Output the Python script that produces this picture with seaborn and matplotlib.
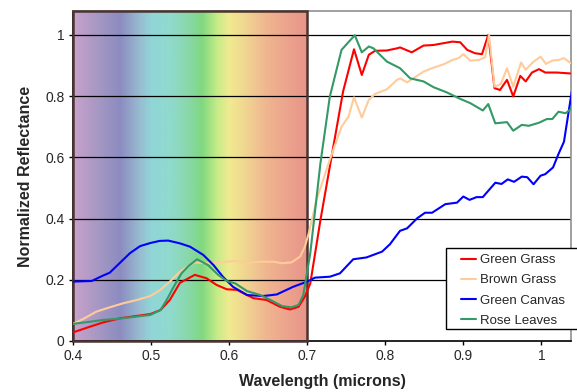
import numpy as np
import pandas as pd
import matplotlib
matplotlib.use('Agg')
import matplotlib.pyplot as plt
from matplotlib.colors import LinearSegmentedColormap
import seaborn as sns

# ---- data
gg_wl = [0.400, 0.422, 0.439, 0.460, 0.482, 0.499, 0.512, 0.524, 0.537, 0.556, 0.571,
         0.584, 0.597, 0.610, 0.631, 0.648, 0.665, 0.678, 0.689, 0.697, 0.704, 0.717,
         0.732, 0.746, 0.760, 0.770, 0.779, 0.787, 0.802, 0.815, 0.819, 0.834, 0.849,
         0.862, 0.875, 0.886, 0.896, 0.905, 0.915, 0.924, 0.932, 0.940, 0.947, 0.956,
         0.964, 0.973, 0.980, 0.988, 0.997, 1.005, 1.020, 1.037]
gg_val = [0.028, 0.047, 0.061, 0.074, 0.082, 0.088, 0.101, 0.134, 0.190, 0.216, 0.205,
          0.183, 0.169, 0.167, 0.140, 0.134, 0.112, 0.103, 0.112, 0.145, 0.188, 0.395,
          0.613, 0.815, 0.953, 0.869, 0.935, 0.948, 0.949, 0.956, 0.959, 0.943, 0.965,
          0.967, 0.973, 0.978, 0.976, 0.951, 0.940, 0.937, 1.000, 0.826, 0.820, 0.853,
          0.799, 0.866, 0.848, 0.877, 0.888, 0.877, 0.877, 0.874]

bg_wl = [0.400, 0.413, 0.430, 0.447, 0.464, 0.482, 0.499, 0.512, 0.524, 0.537, 0.548,
         0.556, 0.573, 0.591, 0.607, 0.623, 0.642, 0.657, 0.668, 0.680, 0.691, 0.697,
         0.702, 0.712, 0.729, 0.744, 0.753, 0.760, 0.770, 0.779, 0.787, 0.802, 0.815,
         0.819, 0.828, 0.836, 0.849, 0.862, 0.875, 0.886, 0.894, 0.900, 0.909, 0.920,
         0.928, 0.933, 0.940, 0.948, 0.956, 0.964, 0.974, 0.980, 0.989, 0.999, 1.006,
         1.014, 1.022, 1.029, 1.038]
bg_val = [0.056, 0.072, 0.096, 0.110, 0.123, 0.134, 0.147, 0.167, 0.194, 0.226, 0.245,
          0.257, 0.254, 0.257, 0.262, 0.256, 0.259, 0.259, 0.254, 0.257, 0.276, 0.308,
          0.352, 0.461, 0.592, 0.700, 0.733, 0.796, 0.730, 0.788, 0.807, 0.822, 0.853,
          0.858, 0.845, 0.858, 0.880, 0.893, 0.904, 0.918, 0.924, 0.937, 0.916, 0.918,
          0.927, 1.000, 0.831, 0.839, 0.891, 0.831, 0.910, 0.886, 0.910, 0.929, 0.905,
          0.916, 0.918, 0.924, 0.907]

gc_wl = [0.400, 0.424, 0.437, 0.447, 0.460, 0.473, 0.486, 0.499, 0.511, 0.522, 0.537,
         0.550, 0.567, 0.580, 0.592, 0.605, 0.623, 0.644, 0.661, 0.682, 0.700, 0.710,
         0.729, 0.742, 0.759, 0.776, 0.796, 0.806, 0.819, 0.828, 0.841, 0.851, 0.860,
         0.877, 0.892, 0.900, 0.908, 0.917, 0.925, 0.941, 0.949, 0.957, 0.965, 0.975,
         0.982, 0.990, 0.999, 1.005, 1.015, 1.022, 1.029, 1.039]
gc_val = [0.194, 0.196, 0.212, 0.223, 0.255, 0.287, 0.310, 0.320, 0.327, 0.328, 0.319,
          0.308, 0.281, 0.248, 0.210, 0.177, 0.150, 0.147, 0.152, 0.177, 0.194, 0.207,
          0.210, 0.221, 0.267, 0.273, 0.292, 0.316, 0.360, 0.368, 0.401, 0.419, 0.419,
          0.447, 0.452, 0.472, 0.461, 0.470, 0.470, 0.517, 0.513, 0.528, 0.520, 0.537,
          0.535, 0.512, 0.540, 0.545, 0.567, 0.611, 0.651, 0.815]

rl_wl = [0.400, 0.422, 0.439, 0.460, 0.482, 0.499, 0.512, 0.520, 0.529, 0.539, 0.548,
         0.559, 0.573, 0.586, 0.597, 0.608, 0.623, 0.640, 0.653, 0.668, 0.680, 0.689,
         0.695, 0.704, 0.717, 0.729, 0.744, 0.761, 0.770, 0.779, 0.785, 0.802, 0.819,
         0.832, 0.849, 0.862, 0.879, 0.896, 0.909, 0.925, 0.932, 0.941, 0.956, 0.964,
         0.975, 0.984, 0.997, 1.007, 1.014, 1.022, 1.031, 1.039]
rl_val = [0.056, 0.063, 0.069, 0.073, 0.080, 0.085, 0.101, 0.134, 0.177, 0.221, 0.245,
          0.267, 0.248, 0.216, 0.196, 0.188, 0.163, 0.150, 0.134, 0.114, 0.110, 0.118,
          0.150, 0.287, 0.581, 0.798, 0.951, 0.999, 0.943, 0.962, 0.956, 0.913, 0.891,
          0.858, 0.848, 0.829, 0.812, 0.791, 0.777, 0.753, 0.774, 0.711, 0.715, 0.687,
          0.706, 0.703, 0.713, 0.725, 0.725, 0.749, 0.744, 0.760]

series_names = ['Green Grass', 'Brown Grass', 'Green Canvas', 'Rose Leaves']
series_colors = ['#FF0000', '#FFCC99', '#0000FF', '#339966']

x_ticks = [0.4, 0.5, 0.6, 0.7, 0.8, 0.9, 1.0]
x_tick_labels = ['0.4', '0.5', '0.6', '0.7', '0.8', '0.9', '1']
y_ticks = [0, 0.2, 0.4, 0.6, 0.8, 1.0]
y_tick_labels = ['0', '0.2', '0.4', '0.6', '0.8', '1']

# visible spectrum colour stops (wavelength, colour)
spec_stops = [(0.400, '#C8A2CC'), (0.430, '#A898C4'), (0.460, '#8C8CC0'),
              (0.485, '#98BCD0'), (0.500, '#90D6D8'), (0.525, '#90DACC'),
              (0.548, '#88D8A8'), (0.565, '#80D880'), (0.585, '#C8EC88'),
              (0.600, '#F0EA90'), (0.620, '#F0D690'), (0.645, '#F0B890'),
              (0.670, '#ECA68E'), (0.700, '#E89488')]

frames = []
for name, wl, val in zip(series_names, [gg_wl, bg_wl, gc_wl, rl_wl],
                         [gg_val, bg_val, gc_val, rl_val]):
    frames.append(pd.DataFrame({'wl': wl, 'refl': val, 'sample': name}))
df = pd.concat(frames, ignore_index=True)

sns.set_style('white')
plt.rcParams['font.family'] = ['Liberation Sans', 'DejaVu Sans']

W, H = 577, 392
fig = plt.figure(figsize=(W / 100, H / 100), dpi=100)
ax = fig.add_axes([73 / W, 1 - 341 / H, 498 / W, 330 / H])

x_min, x_max = 0.4, 1.038
y_min, y_max = 0, 1.078

# spectrum background
lo, hi = spec_stops[0][0], spec_stops[-1][0]
cmap = LinearSegmentedColormap.from_list(
    'spec', [((w - lo) / (hi - lo), c) for w, c in spec_stops])
grad = np.linspace(0, 1, 400).reshape(1, -1)
ax.imshow(grad, cmap=cmap, aspect='auto', extent=[lo, hi, y_min, y_max],
          zorder=0, interpolation='bilinear')
ax.add_patch(plt.Rectangle((lo, y_min), hi - lo, y_max - y_min, fill=False,
                           edgecolor='#4A3430', linewidth=1.8, zorder=3,
                           clip_on=False))

for yv in y_ticks[1:]:
    ax.axhline(yv, color='black', linewidth=0.9, zorder=1)

sns.lineplot(data=df, x='wl', y='refl', hue='sample', hue_order=series_names,
             palette=series_colors, estimator=None, sort=False, linewidth=1.5,
             ax=ax, zorder=4)

ax.set_xlim(x_min, x_max)
ax.set_ylim(y_min, y_max)
ax.set_xticks(x_ticks)
ax.set_xticklabels(x_tick_labels, fontsize=10)
ax.set_yticks(y_ticks)
ax.set_yticklabels(y_tick_labels, fontsize=10)
ax.tick_params(axis='both', direction='out', length=3, width=1, color='black',
               bottom=True, left=True, pad=3)
ax.set_xlabel('Wavelength (microns)', fontsize=11.5, fontweight='bold', labelpad=8)
ax.set_ylabel('Normalized Reflectance', fontsize=11.5, fontweight='bold', labelpad=9)

for side in ['top', 'right']:
    ax.spines[side].set_color('#909090')
    ax.spines[side].set_linewidth(1.2)
for side in ['left', 'bottom']:
    ax.spines[side].set_color('black')
    ax.spines[side].set_linewidth(1.2)

# legend: frame drawn by hand so it runs off the right edge like the original
ax.add_patch(plt.Rectangle((446 / W, 1 - 329 / H), 133 / W, 81 / H,
                           transform=fig.transFigure, facecolor='white',
                           edgecolor='black', linewidth=1.0, zorder=5,
                           clip_on=False))
leg = ax.legend(loc='upper left', bbox_to_anchor=(461 / W, 1 - 254 / H),
                bbox_transform=fig.transFigure, fontsize=9.5, frameon=False,
                handlelength=1.1, handletextpad=0.35, labelspacing=0.6,
                borderpad=0, borderaxespad=0)
leg.set_zorder(6)
for line in leg.get_lines():
    line.set_linewidth(1.5)

fig.savefig('out.png', dpi=100)
